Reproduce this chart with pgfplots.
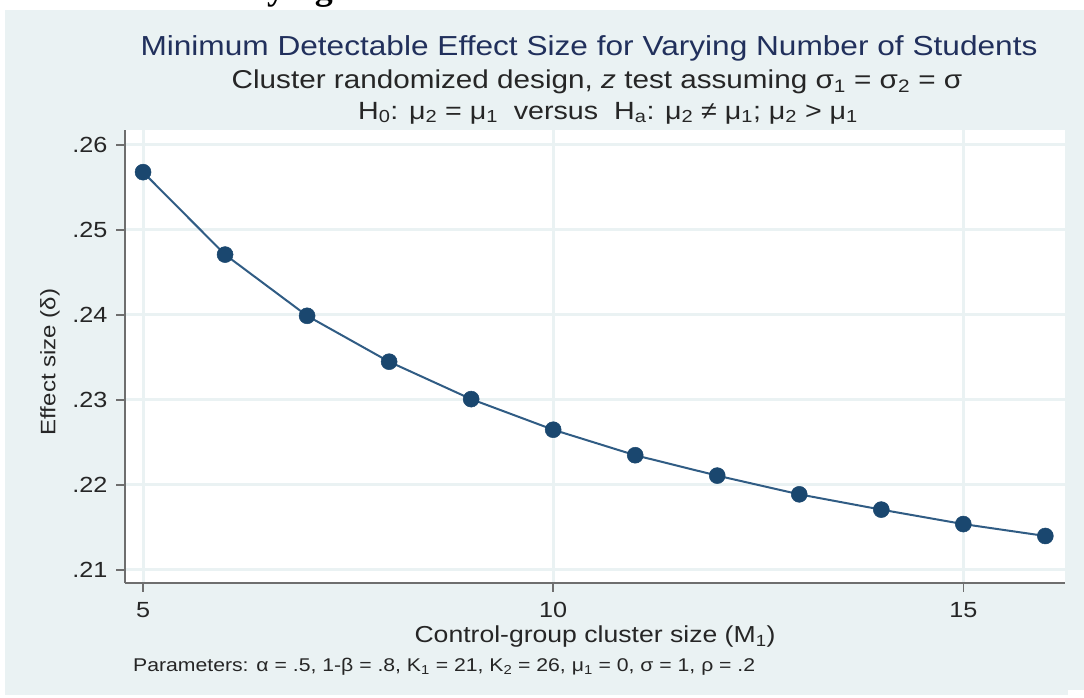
\documentclass[border=0pt]{standalone}
\usepackage{fontspec}
\setmainfont{Liberation Sans}[FakeStretch=1.15]
\newfontfamily\headserif{Liberation Serif}
\usepackage{pgfplots}
\pgfplotsset{compat=1.18}

\definecolor{stbg}{RGB}{234,242,243}
\definecolor{stgrid}{RGB}{234,242,243}
\definecolor{stnavy}{RGB}{26,71,111}
\definecolor{stline}{RGB}{48,92,132}
\definecolor{sttitle}{RGB}{33,48,92}
\definecolor{staxis}{RGB}{110,110,110}

\begin{document}
\begin{tikzpicture}[x=1bp,y=1bp]
\useasboundingbox (0,0) rectangle (1084,698);
\fill[white] (0,0) rectangle (1084,698);
\fill[stbg] (5,3) rectangle (1084,688);
\fill[white] (1068,0) rectangle (1084,8);

% cut-off heading above the figure
\begin{scope}
\clip (0,688) rectangle (1084,698);
\node[anchor=base east, inner sep=0pt] at (333,698.5)
  {\headserif\bfseries\fontsize{36}{40}\selectfont Varying};
\end{scope}

\begin{axis}[
    at={(125bp,115bp)}, anchor=south west,
    scale only axis,
    width=940bp, height=453bp,
    xmin=4.78, xmax=16.24,
    ymin=0.20847, ymax=0.26176,
    axis background/.style={fill=white},
    axis x line*=bottom, axis y line*=left,
    axis line style={staxis, line width=1.8bp, -},
    xtick={5,10,15}, xticklabels={5,10,15},
    ytick={0.21,0.22,0.23,0.24,0.25,0.26},
    yticklabels={.21,.22,.23,.24,.25,.26},
    tick align=outside,
    major tick length=9bp,
    tick style={staxis, line width=1.5bp},
    grid=major,
    major grid style={stgrid, line width=3bp},
    ticklabel style={font=\fontsize{22}{24}\selectfont, text=black!85},
    xticklabel style={yshift=-7bp},
    yticklabel style={xshift=-5bp},
    clip=false,
]
\addplot[stline, line width=2bp, mark=*, mark size=8bp,
         mark options={fill=stnavy, draw=stnavy, line width=0.5bp}]
coordinates {
    (5,0.2568) (6,0.2471) (7,0.2399) (8,0.2345) (9,0.2301) (10,0.2265)
    (11,0.2235) (12,0.2211) (13,0.2189) (14,0.2171) (15,0.2154) (16,0.2140)
};
\end{axis}

% titles
\node[text=sttitle, inner sep=0pt] at (589,650)
  {\fontsize{27.6}{30}\selectfont Minimum Detectable Effect Size for Varying Number of Students};
\node[text=black!85, inner sep=0pt] at (597,616)
  {\fontsize{25.9}{28}\selectfont Cluster randomized design, \textit{z} test assuming σ\textsubscript{1} = σ\textsubscript{2} = σ};
\node[text=black!85, inner sep=0pt] at (608,585)
  {\fontsize{25}{28}\selectfont H\textsubscript{0}: μ\textsubscript{2} = μ\textsubscript{1}\ \ versus\ \ H\textsubscript{a}: μ\textsubscript{2} ≠ μ\textsubscript{1}; μ\textsubscript{2} > μ\textsubscript{1}};

% axis titles
\node[rotate=90, text=black!85, inner sep=0pt] at (50,336)
  {\fontsize{21}{24}\selectfont Effect size (δ)};
\node[text=black!85, inner sep=0pt] at (595,61)
  {\fontsize{23.2}{26}\selectfont Control-group cluster size (M\textsubscript{1})};
\node[anchor=west, text=black!85, inner sep=0pt] at (133,31)
  {\fontsize{18.5}{21}\selectfont Parameters: α = .5, 1-β = .8, K\textsubscript{1} = 21, K\textsubscript{2} = 26, μ\textsubscript{1} = 0, σ = 1, ρ = .2};
\end{tikzpicture}
\end{document}
